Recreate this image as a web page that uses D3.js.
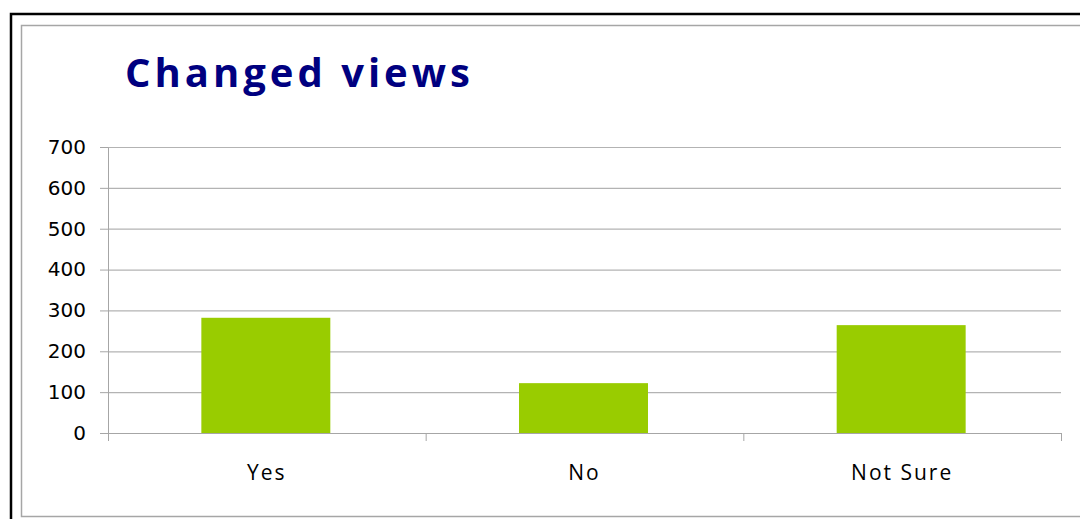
<!DOCTYPE html>
<html>
<head>
<meta charset="utf-8">
<script src="https://cdn.jsdelivr.net/npm/d3@7"></script>
<style>
  body { margin: 0; background: #fff; }
  svg { display: block; }
</style>
</head>
<body>
<div id="my_dataviz"></div>
<script>
// data
var categories = ["Yes", "No", "Not Sure"];
var values = [282, 122, 264];
var yTicks = [0, 100, 200, 300, 400, 500, 600, 700];

var W = 1080, H = 519;
var margin = { top: 147, right: 19, bottom: 86, left: 108 },
  width = W - margin.left - margin.right,
  height = H - margin.top - margin.bottom;

var root = d3.select("#my_dataviz")
  .append("svg")
  .attr("width", W)
  .attr("height", H);

// outer black frame and inner grey chart border
root.append("rect")
  .attr("x", 11).attr("y", 14)
  .attr("width", W + 20).attr("height", H + 20)
  .attr("fill", "none").attr("stroke", "#000").attr("stroke-width", 2.5);
root.append("rect")
  .attr("x", 21.5).attr("y", 25.5)
  .attr("width", W + 20).attr("height", 491)
  .attr("fill", "none").attr("stroke", "#a6a6a6").attr("stroke-width", 1.5);

// title
root.append("text")
  .attr("x", 125).attr("y", 87)
  .attr("font-family", "Open Sans")
  .attr("font-weight", "bold")
  .attr("font-size", 40)
  .attr("letter-spacing", 4)
  .attr("fill", "#000080")
  .text("Changed views");

var svg = root.append("g")
  .attr("transform", "translate(" + margin.left + "," + margin.top + ")");

var x = d3.scaleBand()
  .domain(categories)
  .range([0, width])
  .paddingInner(0.594)
  .paddingOuter(0.297);

var y = d3.scaleLinear()
  .domain([0, 700])
  .range([height, 0]);

// horizontal gridlines
svg.append("g")
  .selectAll("line")
  .data(yTicks)
  .enter()
  .append("line")
  .attr("x1", 0).attr("x2", width)
  .attr("y1", function(d) { return y(d) + 0.5; })
  .attr("y2", function(d) { return y(d) + 0.5; })
  .attr("stroke", "#b3b3b3")
  .attr("stroke-width", 1.2);

// Y axis
var yAxis = svg.append("g")
  .call(d3.axisLeft(y).tickValues(yTicks).tickSize(8).tickPadding(14).tickSizeOuter(0));
yAxis.select(".domain").attr("stroke", "#a6a6a6");
yAxis.selectAll(".tick line").attr("stroke", "#a6a6a6");
yAxis.selectAll("text")
  .attr("font-family", "DejaVu Sans")
  .attr("font-size", 20)
  .attr("fill", "#000");

// bars
svg.append("g")
  .selectAll("rect")
  .data(categories)
  .enter()
  .append("rect")
  .attr("x", function(d) { return x(d) - 1; })
  .attr("y", function(d, i) { return y(values[i]); })
  .attr("width", x.bandwidth())
  .attr("height", function(d, i) { return height - y(values[i]); })
  .attr("fill", "#99cc00");

// X axis: ticks sit on the category boundaries
var step = x.step();
var boundaries = d3.range(categories.length + 1).map(function(i) {
  return x(categories[0]) - x.paddingOuter() * step + i * step;
});
var xg = svg.append("g").attr("transform", "translate(0," + height + ")");
xg.append("line")
  .attr("x1", 0).attr("x2", width)
  .attr("y1", 0.5).attr("y2", 0.5)
  .attr("stroke", "#a6a6a6").attr("stroke-width", 1.2);
xg.selectAll(".bt")
  .data(boundaries)
  .enter()
  .append("line")
  .attr("x1", function(d) { return d + 0.5; })
  .attr("x2", function(d) { return d + 0.5; })
  .attr("y1", 0).attr("y2", 8)
  .attr("stroke", "#a6a6a6");
xg.selectAll("text")
  .data(categories)
  .enter()
  .append("text")
  .attr("x", function(d) { return x(d) + x.bandwidth() / 2; })
  .attr("y", 47)
  .attr("text-anchor", "middle")
  .attr("font-family", "Open Sans")
  .attr("font-size", 21)
  .attr("letter-spacing", 2)
  .attr("fill", "#000")
  .text(function(d) { return d; });
</script>
</body>
</html>
